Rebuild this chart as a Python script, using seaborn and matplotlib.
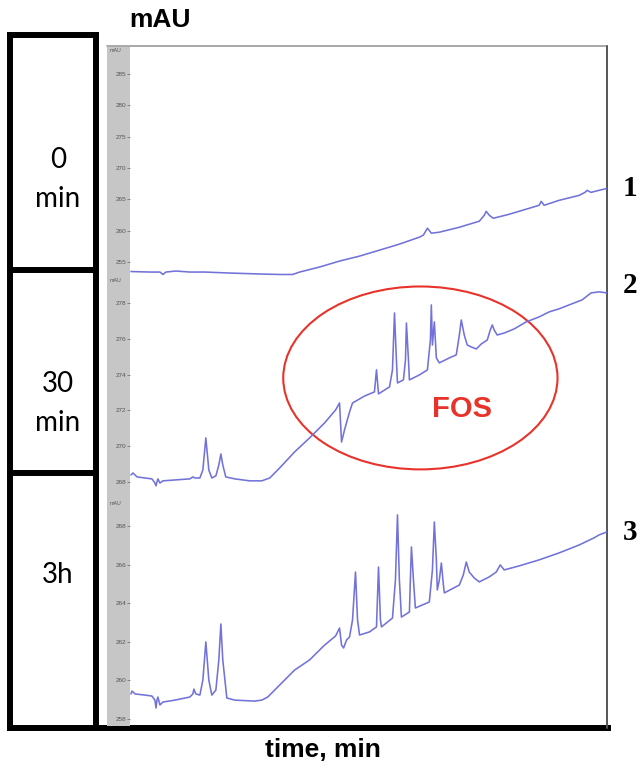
import matplotlib
matplotlib.use("Agg")
import matplotlib.pyplot as plt
from matplotlib.patches import Ellipse
import pandas as pd
import seaborn as sns

# ---------------- data (time in min, absorbance in mAU) ----------------
t1 = [0.08, 1.67, 2.51, 2.76, 3.01, 3.85, 5.02, 6.28, 8.37, 10.88, 12.55, 13.64,
      14.23, 15.90, 17.57, 19.25, 20.92, 22.59, 24.27, 24.60, 24.94, 25.27, 25.94,
      27.62, 28.45, 29.29, 29.71, 29.87, 30.13, 30.46, 31.80, 33.47, 34.31, 34.48,
      34.73, 35.98, 37.66, 38.16, 38.33, 38.66, 39.33, 40.00]
a1 = [253.49, 253.41, 253.41, 253.02, 253.41, 253.57, 253.41, 253.41, 253.25, 253.10,
      253.02, 253.02, 253.41, 254.21, 255.16, 255.95, 256.90, 257.86, 258.97, 259.29,
      260.40, 259.60, 259.76, 260.55, 261.03, 261.51, 262.46, 263.09, 262.46, 261.98,
      262.62, 263.57, 264.05, 264.68, 264.05, 264.84, 265.63, 266.11, 266.43, 266.11,
      266.43, 266.74]

t2 = [0.08, 0.25, 0.59, 1.26, 1.84, 2.09, 2.18, 2.26, 2.34, 2.51, 2.76, 3.77, 5.02,
      5.27, 5.44, 5.86, 6.11, 6.36, 6.61, 6.86, 7.20, 7.45, 7.62, 7.78, 8.03, 8.79,
      10.04, 11.05, 11.72, 12.55, 13.81, 15.06, 16.32, 17.24, 17.57, 17.74, 17.99,
      18.41, 18.66, 19.67, 20.50, 20.67, 20.84, 21.76, 22.01, 22.18, 22.34, 22.43,
      22.93, 23.10, 23.18, 23.35, 23.43, 24.27, 24.94, 25.19, 25.27, 25.36, 25.52,
      25.69, 25.94, 26.78, 27.36, 27.62, 27.78, 28.03, 28.28, 28.62, 29.04, 29.46,
      29.96, 30.21, 30.38, 30.54, 30.79, 31.38, 32.22, 33.22, 34.31, 35.15, 35.98,
      36.82, 37.91, 38.66, 39.33, 40.00]
a2 = [268.39, 268.50, 268.28, 268.22, 268.17, 267.94, 267.78, 268.00, 268.17, 267.94,
      268.06, 268.11, 268.17, 268.28, 268.22, 268.22, 268.67, 270.46, 268.67, 268.22,
      268.34, 268.95, 269.56, 268.95, 268.28, 268.17, 268.06, 268.06, 268.22, 268.78,
      269.68, 270.46, 271.30, 272.02, 272.41, 270.23, 270.91, 271.91, 272.41, 272.80,
      273.03, 274.26, 272.92, 273.31, 274.26, 277.44, 274.82, 273.53, 273.70, 274.82,
      276.88, 274.82, 273.70, 273.98, 274.26, 275.93, 277.89, 275.65, 276.94, 274.93,
      274.65, 274.93, 275.10, 276.21, 277.05, 276.21, 275.65, 275.54, 275.43, 275.71,
      275.93, 276.49, 276.77, 276.49, 276.21, 276.32, 276.55, 276.94, 277.22, 277.50,
      277.67, 277.89, 278.17, 278.56, 278.62, 278.56]

t3 = [0.08, 0.17, 0.42, 1.26, 1.84, 2.09, 2.18, 2.26, 2.34, 2.51, 2.76, 3.77, 5.02,
      5.27, 5.36, 5.52, 5.86, 6.11, 6.36, 6.61, 6.86, 7.20, 7.45, 7.62, 7.78, 8.12,
      8.79, 10.46, 11.05, 11.55, 12.55, 13.81, 15.06, 16.32, 17.24, 17.57, 17.74,
      17.91, 18.16, 18.41, 18.66, 18.91, 19.08, 19.25, 20.08, 20.67, 20.84, 21.00,
      21.09, 22.01, 22.26, 22.43, 22.59, 22.76, 23.43, 23.51, 23.60, 23.77, 23.93,
      25.10, 25.36, 25.52, 25.69, 25.77, 25.94, 26.11, 26.28, 26.36, 27.62, 27.95,
      28.20, 28.45, 28.87, 29.29, 30.13, 30.71, 31.05, 31.38, 32.64, 34.31, 35.98,
      37.66, 38.91, 39.33, 40.00]
a3 = [259.30, 259.45, 259.30, 259.24, 259.19, 258.98, 258.57, 258.98, 259.14, 258.73,
      258.88, 258.98, 259.14, 259.30, 259.55, 259.30, 259.24, 260.02, 261.99, 260.02,
      259.24, 259.50, 261.06, 262.92, 261.06, 259.09, 258.98, 258.93, 258.98, 259.14,
      259.76, 260.54, 261.06, 261.83, 262.30, 262.71, 261.83, 261.68, 262.09, 262.25,
      263.13, 265.61, 263.13, 262.35, 262.51, 262.77, 265.87, 263.13, 262.77, 263.23,
      265.20, 268.57, 265.20, 263.28, 263.54, 265.20, 266.91, 265.20, 263.75, 264.06,
      265.72, 268.20, 266.24, 264.68, 265.20, 266.08, 264.94, 264.53, 264.94, 265.46,
      266.13, 265.61, 265.30, 265.10, 265.36, 265.61, 265.98, 265.72, 265.93, 266.24,
      266.60, 267.01, 267.38, 267.53, 267.69]

ticks1 = [255, 260, 265, 270, 275, 280, 285]
ticks2 = [268, 270, 272, 274, 276, 278]
ticks3 = [258, 260, 262, 264, 266, 268]

sample_labels = [("0", "min"), ("30", "min"), ("3h", None)]
trace_labels = ["1", "2", "3"]
fos_label = "FOS"
y_unit = "mAU"
x_title = "time, min"

# ---------------- figure ----------------
sns.set_theme(style="white")
plt.rcParams["font.family"] = ["Liberation Sans", "DejaVu Sans"]
plt.rcParams["text.color"] = "black"

W, H = 644, 768
fig = plt.figure(figsize=(W / 100, H / 100), dpi=100)
fig.patch.set_facecolor("white")


def rect(x0, y0, x1, y1):
    return [x0 / W, 1 - y1 / H, (x1 - x0) / W, (y1 - y0) / H]


def fx(x):
    return x / W


def fy(y):
    return 1 - y / H


# overlay axes for frame decorations
ov = fig.add_axes([0, 0, 1, 1], zorder=0)
ov.set_xlim(0, W)
ov.set_ylim(H, 0)
ov.axis("off")
blk = dict(color="black", lw=4.3, solid_capstyle="projecting")
ov.plot([10, 10], [34.5, 728], **blk)
ov.plot([96, 96], [34.5, 728], **blk)
ov.plot([10, 96], [34.5, 34.5], **blk)
ov.plot([10, 96], [270, 270], **blk)
ov.plot([10, 96], [473, 473], **blk)
ov.plot([10, 608], [728, 728], **blk)
ov.plot([107, 607], [46, 46], color="#9a9a9a", lw=1.2)
ov.plot([607, 607], [46, 728], color="#555555", lw=1.4)

line_color = "#7272da"
bands = [(47, 277), (277, 500), (500, 726)]
ylims = [(252.62, 289.28), (266.99, 279.45), (257.64, 269.34)]
series = [(t1, a1, ticks1), (t2, a2, ticks2), (t3, a3, ticks3)]

trace_axes = []
for (b0, b1), ylim, (tt, aa, tk) in zip(bands, ylims, series):
    # grey scale strip
    sa = fig.add_axes(rect(107, b0, 130, b1), zorder=1)
    sa.set_facecolor("#c6c6c6")
    for s in sa.spines.values():
        s.set_visible(False)
    sa.set_ylim(*ylim)
    sa.set_xticks([])
    sa.set_yticks(tk)
    sa.set_yticklabels([str(v) for v in tk])
    sa.tick_params(axis="y", left=False, right=True, labelleft=True,
                   labelright=False, direction="in", length=2.5, width=0.6,
                   color="#777777", pad=-14, labelsize=4.6, labelcolor="#555555")
    for lab in sa.get_yticklabels():
        lab.set_horizontalalignment("right")
    sa.text(0.35, 0.995, y_unit, transform=sa.transAxes, fontsize=3.8,
            color="#555555", ha="center", va="top")

    # trace
    ax = fig.add_axes(rect(130, b0, 607, b1), zorder=2)
    ax.patch.set_alpha(0)
    df = pd.DataFrame({"time": tt, "mAU": aa})
    sns.lineplot(data=df, x="time", y="mAU", ax=ax, color=line_color,
                 lw=1.15, sort=False, estimator=None)
    ax.set_xlim(0, 40)
    ax.set_ylim(*ylim)
    ax.axis("off")
    trace_axes.append(ax)

# FOS annotation on the 30 min trace
ax2 = trace_axes[1]
ax2.add_patch(Ellipse((24.35, 273.81), 23.0, 10.22, fill=False,
                      edgecolor="#e8332b", lw=1.5, clip_on=False))
ax2.text(27.8, 272.05, fos_label, color="#e8332b", fontsize=21,
         fontweight="bold", ha="center", va="center")

# titles
fig.text(fx(160), fy(20), y_unit, fontsize=19, fontweight="bold",
         ha="center", va="center", color="black")
fig.text(fx(323), fy(750), x_title, fontsize=19, fontweight="bold",
         ha="center", va="center", color="black")

# sample labels in left boxes
base_first = [168, 392, 583]
for (l1, l2), yb in zip(sample_labels, base_first):
    fig.text(fx(58), fy(yb), l1, fontsize=20, family=["Lato", "DejaVu Sans"],
             ha="center", va="baseline", color="black")
    if l2:
        fig.text(fx(58), fy(yb + 39), l2, fontsize=20,
                 family=["Lato", "DejaVu Sans"], ha="center", va="baseline",
                 color="black")

# trace numbers on the right
for lab, yc in zip(trace_labels, [188, 286, 532]):
    fig.text(fx(623), fy(yc), lab, fontsize=21, fontweight="bold",
             family=["Liberation Serif", "DejaVu Serif"], ha="left", va="center",
             color="black")

fig.savefig("out.png", dpi=100, facecolor="white")
